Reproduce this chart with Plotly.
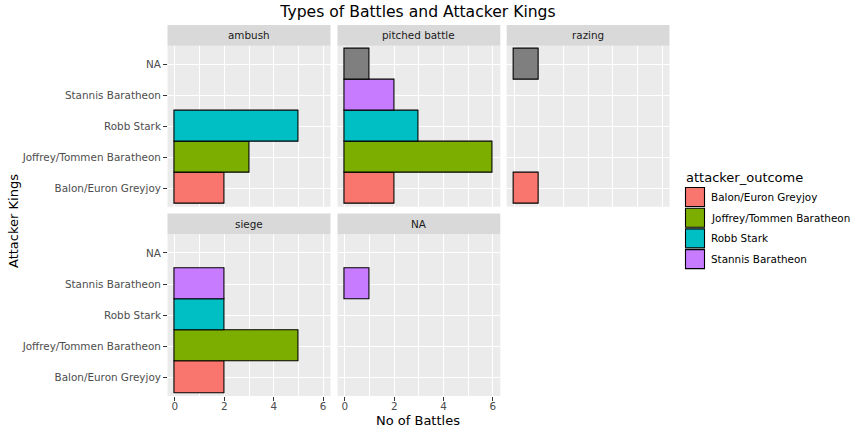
import plotly.graph_objects as go

# ---------------- data ----------------
battle_types = ["ambush", "pitched battle", "razing", "siege", "NA"]
kings = ["Balon/Euron Greyjoy", "Joffrey/Tommen Baratheon", "Robb Stark",
         "Stannis Baratheon", "NA"]
counts_ambush = [2, 3, 5, 0, 0]
counts_pitched = [2, 6, 3, 2, 1]
counts_razing = [1, 0, 0, 0, 1]
counts_siege = [2, 5, 2, 2, 0]
counts_na = [0, 0, 0, 1, 0]
legend_kings = ["Balon/Euron Greyjoy", "Joffrey/Tommen Baratheon", "Robb Stark",
                "Stannis Baratheon"]
fill_colors = ["#F8766D", "#7CAE00", "#00BFC4", "#C77CFF", "#7F7F7F"]
x_ticks = [0, 2, 4, 6]

panel_counts = [counts_ambush, counts_pitched, counts_razing, counts_siege, counts_na]

# ---------------- layout geometry (pixels) ----------------
W, H = 854, 432
FONT = "DejaVu Sans"
col_px = [(167.5, 330.5), (337.5, 500.3), (506.7, 669.5)]
row_px = [(45.7, 206.7), (234.3, 396.0)]
strip_h = 20.7
panel_rc = [(0, 0), (0, 1), (0, 2), (1, 0), (1, 1)]
bottom_axis = [False, False, False, True, True]
left_axis = [True, False, False, True, False]


def px_x(v):
    return v / W


def px_y(v):
    return 1 - v / H


fig = go.Figure()
shapes = []
annotations = []
layout_axes = {}

for i, (btype, counts) in enumerate(zip(battle_types, panel_counts)):
    r, c = panel_rc[i]
    x0, x1 = col_px[c]
    y0, y1 = row_px[r]
    xname = "x" if i == 0 else f"x{i+1}"
    yname = "y" if i == 0 else f"y{i+1}"
    xkey = "xaxis" if i == 0 else f"xaxis{i+1}"
    ykey = "yaxis" if i == 0 else f"yaxis{i+1}"

    for k, (king, val) in enumerate(zip(kings, counts)):
        if val == 0:
            continue
        fig.add_trace(go.Bar(
            x=[val], y=[k], orientation="h", width=1,
            marker=dict(color=fill_colors[k], line=dict(color="black", width=1.1)),
            xaxis=xname, yaxis=yname, showlegend=False, name=king,
            hoverinfo="x+name",
        ))

    layout_axes[xkey] = dict(
        domain=[px_x(x0), px_x(x1)], anchor=yname, range=[-0.3, 6.3],
        tickmode="array", tickvals=x_ticks, ticktext=[str(t) for t in x_ticks],
        showgrid=True, gridcolor="white", gridwidth=1.1, zeroline=False,
        minor=dict(dtick=1, tick0=0, showgrid=True, gridcolor="white", gridwidth=0.55),
        showticklabels=bottom_axis[i],
        ticks="outside" if bottom_axis[i] else "",
        ticklen=3.5, tickwidth=1, tickcolor="#333333",
        ticklabelstandoff=-3,
        tickfont=dict(family=FONT, size=10.4, color="#4D4D4D"),
        showline=False, fixedrange=True,
    )
    layout_axes[ykey] = dict(
        domain=[px_y(y1), px_y(y0)], anchor=xname, range=[-0.6, 4.6],
        tickmode="array", tickvals=list(range(len(kings))), ticktext=kings,
        showgrid=True, gridcolor="white", gridwidth=1.1, zeroline=False,
        showticklabels=left_axis[i],
        ticks="outside" if left_axis[i] else "",
        ticklen=3.5, tickwidth=1, tickcolor="#333333",
        tickfont=dict(family=FONT, size=10.4, color="#4D4D4D"),
        showline=False, fixedrange=True,
    )

    # strip
    shapes.append(dict(type="rect", xref="paper", yref="paper",
                       x0=px_x(x0), x1=px_x(x1), y0=px_y(y0), y1=px_y(y0 - strip_h),
                       fillcolor="#D9D9D9", line=dict(width=0), layer="below"))
    annotations.append(dict(text=btype, xref="paper", yref="paper",
                            x=px_x((x0 + x1) / 2), y=px_y(y0 - strip_h / 2),
                            xanchor="center", yanchor="middle", showarrow=False,
                            font=dict(family=FONT, size=10.4, color="#1A1A1A")))

# axis titles
annotations.append(dict(text="No of Battles", xref="paper", yref="paper",
                        x=px_x(418), y=px_y(420.5), xanchor="center", yanchor="middle",
                        showarrow=False, font=dict(family=FONT, size=13, color="black")))
annotations.append(dict(text="Attacker Kings", xref="paper", yref="paper",
                        x=px_x(13), y=px_y(221), xanchor="center", yanchor="middle",
                        textangle=-90, showarrow=False,
                        font=dict(family=FONT, size=13, color="black")))

# legend (drawn manually to mimic ggplot keys)
annotations.append(dict(text="attacker_outcome", xref="paper", yref="paper",
                        x=px_x(684), y=px_y(177.5), xanchor="left", yanchor="middle",
                        showarrow=False, font=dict(family=FONT, size=13, color="black")))
for k, king in enumerate(legend_kings):
    top = 187.5 + k * 20.7
    shapes.append(dict(type="rect", xref="paper", yref="paper",
                       x0=px_x(685.5), x1=px_x(704.5), y0=px_y(top + 19), y1=px_y(top),
                       fillcolor=fill_colors[k], line=dict(color="black", width=1.1)))
    annotations.append(dict(text=king, xref="paper", yref="paper",
                            x=px_x(708.5), y=px_y(top + 9.5), xanchor="left",
                            yanchor="middle", showarrow=False,
                            font=dict(family=FONT, size=10.4, color="black")))

fig.update_layout(
    width=W, height=H, autosize=False,
    margin=dict(l=0, r=0, t=0, b=0, pad=0),
    paper_bgcolor="white", plot_bgcolor="#EBEBEB",
    barmode="overlay", bargap=0,
    showlegend=False,
    title=dict(text="Types of Battles and Attacker Kings", x=px_x(418), y=px_y(12),
               xanchor="center", yanchor="middle",
               font=dict(family=FONT, size=15.6, color="black")),
    shapes=shapes, annotations=annotations,
    **layout_axes,
)

fig.write_html("out.html", config={"displayModeBar": False})
